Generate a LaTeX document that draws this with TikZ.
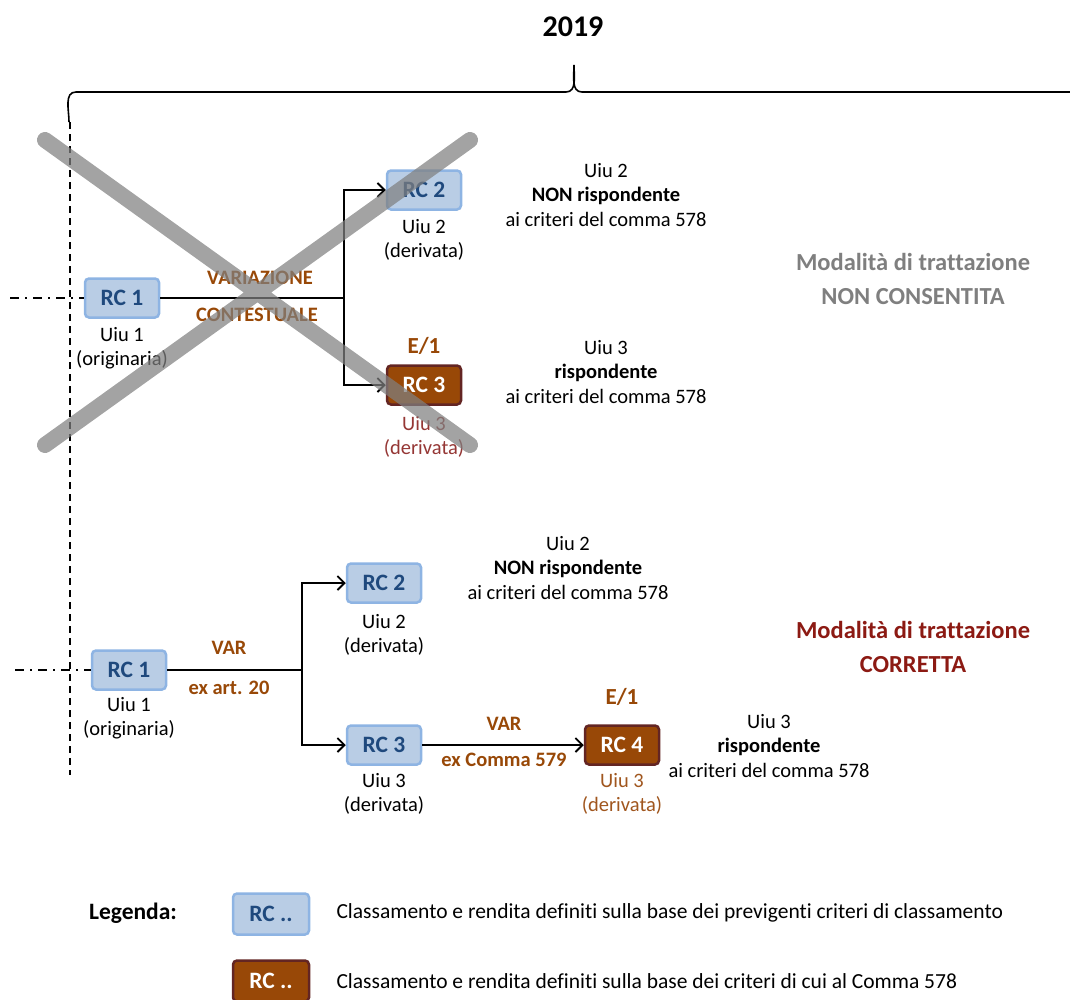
\documentclass[tikz,border=0pt]{standalone}
\usepackage{fontspec}
\setmainfont{Carlito}[Ligatures=NoCommon]
\usepackage{xcolor}
\usepackage{tikz}
\usetikzlibrary{arrows.meta}
\definecolor{oldfill}{HTML}{B9CDE5}
\definecolor{olddraw}{HTML}{8EB4E3}
\definecolor{oldtext}{HTML}{1F497D}
\definecolor{newfill}{HTML}{984807}
\definecolor{newdraw}{HTML}{632523}
\definecolor{vartext}{HTML}{984807}
\definecolor{uiured}{HTML}{953735}
\definecolor{uiubrn}{HTML}{A0561E}
\definecolor{modgray}{HTML}{7F7F7F}
\definecolor{modred}{HTML}{8C1A13}
\tikzstyle{oldrc}=[draw=olddraw,fill=oldfill,rounded corners=4pt,line width=2.5pt,minimum width=74pt,minimum height=39pt,text=oldtext,font=\fontsize{23.5}{27}\selectfont\bfseries]
\tikzstyle{newrc}=[oldrc,draw=newdraw,fill=newfill,text=white]
\tikzstyle{uiu}=[align=center,font=\fontsize{20.5}{24.5}\selectfont]
\tikzstyle{varlbl}=[text=vartext,font=\fontsize{20.5}{24.5}\selectfont\bfseries]
\tikzstyle{elbl}=[text=vartext,font=\fontsize{23}{26}\selectfont\bfseries]
\tikzstyle{modlbl}=[align=center,font=\fontsize{24.5}{34}\selectfont\bfseries]
\tikzstyle{link}=[line width=1.8pt,-{Straight Barb[length=7pt,width=14pt,line width=1.8pt]}]
\tikzstyle{feed}=[line width=1.4pt,dash pattern=on 9pt off 6pt on 2pt off 6pt]

\begin{document}
\begin{tikzpicture}[x=1pt,y=-1pt]
\useasboundingbox (0,0) rectangle (1070,999);
% anno
\node [font=\fontsize{30}{34}\selectfont\bfseries] (anno) at (573,27) {2019};
\draw [line width=1.6pt] (69,122) to[out=90,in=180] (76,92) -- (566,92) to[out=0,in=-90] (574,65) to[out=-90,in=180] (582,92) -- (1070,92);
\draw [line width=1.3pt,dash pattern=on 7pt off 5pt] (70,122) -- (70,775);

% modalita' non consentita
\node [oldrc] (rcA) at (122,298) {RC 1};
\node [uiu] (uiuA) at (122,348) {Uiu 1\\(originaria)};
\node [oldrc] (rcB) at (424,190) {RC 2};
\node [uiu] (uiuB) at (424,240) {Uiu 2\\(derivata)};
\node [newrc] (rcC) at (424,385) {RC 3};
\node [elbl] (eC) at (424,346) {E/1};
\node [uiu,text=uiured] (uiuC) at (424,437) {Uiu 3\\(derivata)};
\coordinate (jA) at (344,298);
\coordinate (inA) at (10,298);
\draw [feed] (inA) -- (rcA);
\draw [line width=1.8pt] (rcA) -- (jA);
\draw [link] (jA) |- (rcB);
\draw [link] (jA) |- (rcC);
\node [varlbl] (varA) at (260,278) {VARIAZIONE};
\node [varlbl] (ctxA) at (257,315) {CONTESTUALE};
\node [uiu] (noteB) at (606,195) {Uiu 2\\\textbf{NON rispondente}\\ai criteri del comma 578};
\node [uiu] (noteC) at (606,372) {Uiu 3\\\textbf{rispondente}\\ai criteri del comma 578};
\node [modlbl,text=modgray] (modA) at (913,279) {Modalità di trattazione\\NON CONSENTITA};
\coordinate (xa) at (45,140);
\coordinate (xb) at (470,445);
\coordinate (xc) at (45,445);
\coordinate (xd) at (470,140);
\draw [line width=16pt,line cap=round,draw=gray,opacity=0.72] (xa) -- (xb) (xc) -- (xd);

% modalita' corretta
\node [oldrc] (rcD) at (129,670) {RC 1};
\node [uiu] (uiuD) at (129,718) {Uiu 1\\(originaria)};
\node [oldrc] (rcE) at (384,583) {RC 2};
\node [uiu] (uiuE) at (384,635) {Uiu 2\\(derivata)};
\node [oldrc] (rcF) at (384,745) {RC 3};
\node [uiu] (uiuF) at (384,794) {Uiu 3\\(derivata)};
\node [newrc] (rcG) at (622,745) {RC 4};
\node [elbl] (eG) at (622,697) {E/1};
\node [uiu,text=uiubrn] (uiuG) at (622,794) {Uiu 3\\(derivata)};
\coordinate (jB) at (302,670);
\coordinate (inB) at (15,670);
\draw [feed] (inB) -- (rcD);
\draw [line width=1.8pt] (rcD) -- (jB);
\draw [link] (jB) |- (rcE);
\draw [link] (jB) |- (rcF);
\draw [link] (rcF) -- (rcG);
\node [varlbl] (varD) at (229,648) {VAR};
\node [varlbl] (artD) at (229,688) {ex art. 20};
\node [varlbl] (varF) at (504,724) {VAR};
\node [varlbl] (artF) at (504,760) {ex Comma 579};
\node [uiu] (noteE) at (568,568) {Uiu 2\\\textbf{NON rispondente}\\ai criteri del comma 578};
\node [uiu] (noteG) at (769,746) {Uiu 3\\\textbf{rispondente}\\ai criteri del comma 578};
\node [modlbl,text=modred] (modB) at (913,647) {Modalità di trattazione\\CORRETTA};

% legenda
\node [font=\fontsize{23.5}{27}\selectfont\bfseries] (leg) at (133,913) {Legenda:};
\node [oldrc,minimum width=76pt,minimum height=41pt] (legA) at (271,914) {RC ..};
\node [newrc,minimum width=76pt,minimum height=41pt] (legB) at (271,981) {RC ..};
\node [uiu,font=\fontsize{21.5}{25}\selectfont,anchor=west] (legAt) at (333,913) {Classamento e rendita definiti sulla base dei previgenti criteri di classamento};
\node [uiu,font=\fontsize{21.5}{25}\selectfont,anchor=west] (legBt) at (333,981) {Classamento e rendita definiti sulla base dei criteri di cui al Comma 578};
\end{tikzpicture}
\end{document}
